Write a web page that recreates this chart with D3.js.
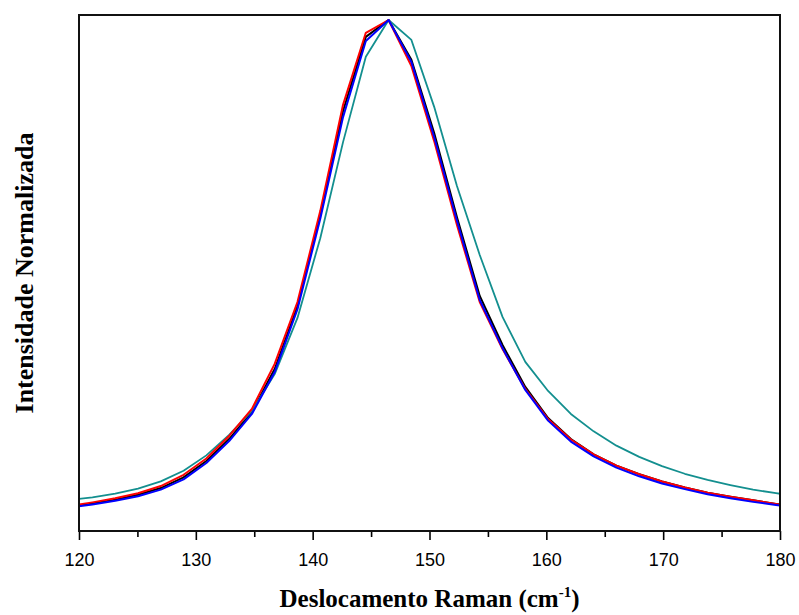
<!DOCTYPE html>
<html>
<head>
<meta charset="utf-8">
<script src="https://cdn.jsdelivr.net/npm/d3@7"></script>
<style>
  body { margin: 0; background: #fff; }
  svg { display: block; }
</style>
</head>
<body>
<svg id="chart" width="799" height="615"></svg>
<script>
  // raman shift (cm-1), sampled points
  var shift = [119.2, 121.15, 123.1, 125.05, 127.0, 128.95, 130.9, 132.85, 134.8, 136.75,
    138.7, 140.65, 142.6, 144.55, 146.5, 148.45, 150.4, 152.35, 154.3, 156.25,
    158.2, 160.15, 162.1, 164.05, 166.0, 167.95, 169.9, 171.85, 173.8, 175.75,
    177.7, 179.65, 181.6];

  // normalized intensities, one per sample
  var serieBlack = [0.047, 0.054, 0.061, 0.071, 0.084, 0.105, 0.137, 0.180, 0.233, 0.317,
    0.440, 0.618, 0.822, 0.967, 1.000, 0.922, 0.779, 0.614, 0.460, 0.364,
    0.282, 0.221, 0.180, 0.150, 0.128, 0.111, 0.097, 0.085, 0.075, 0.067,
    0.060, 0.053, 0.048];
  var serieRed = [0.049, 0.056, 0.064, 0.074, 0.088, 0.110, 0.142, 0.186, 0.239, 0.327,
    0.448, 0.626, 0.834, 0.975, 1.000, 0.910, 0.763, 0.599, 0.448, 0.356,
    0.278, 0.219, 0.179, 0.150, 0.128, 0.111, 0.097, 0.085, 0.075, 0.067,
    0.060, 0.053, 0.048];
  var serieBlue = [0.046, 0.052, 0.059, 0.068, 0.081, 0.101, 0.133, 0.176, 0.229, 0.311,
    0.434, 0.611, 0.810, 0.959, 1.000, 0.918, 0.771, 0.607, 0.452, 0.358,
    0.276, 0.216, 0.175, 0.146, 0.124, 0.107, 0.093, 0.082, 0.072, 0.064,
    0.057, 0.051, 0.046];
  var serieTeal = [0.061, 0.066, 0.073, 0.083, 0.097, 0.118, 0.148, 0.188, 0.235, 0.307,
    0.417, 0.573, 0.761, 0.928, 1.000, 0.961, 0.830, 0.675, 0.540, 0.419,
    0.331, 0.274, 0.229, 0.195, 0.167, 0.145, 0.127, 0.112, 0.100, 0.090,
    0.081, 0.074, 0.068];

  var xTicks = [120, 130, 140, 150, 160, 170, 180];

  var margin = { top: 15, right: 19, bottom: 84, left: 79 };
  var width = 799 - margin.left - margin.right,
    height = 615 - margin.top - margin.bottom;

  var svg = d3.select("#chart");
  var g = svg.append("g")
    .attr("transform", "translate(" + margin.left + "," + margin.top + ")");

  var x = d3.scaleLinear().domain([120, 180]).range([0, width]);
  var y = d3.scaleLinear().domain([0, 1]).range([height, 5]);

  // recorte para as curvas
  svg.append("defs").append("clipPath").attr("id", "clip")
    .append("rect").attr("width", width).attr("height", height);

  var line = d3.line()
    .x(function (d) { return x(d[0]); })
    .y(function (d) { return y(d[1]); });

  var series = [
    { values: serieBlack, color: "#000000", w: 2 },
    { values: serieTeal, color: "#138f8f", w: 1.8 },
    { values: serieRed, color: "#ff0000", w: 2 },
    { values: serieBlue, color: "#0000ff", w: 2 }
  ];

  var curves = g.append("g").attr("clip-path", "url(#clip)");
  series.forEach(function (s) {
    curves.append("path")
      .datum(d3.zip(shift, s.values))
      .attr("fill", "none")
      .attr("stroke", s.color)
      .attr("stroke-width", s.w)
      .attr("stroke-linejoin", "round")
      .attr("d", line);
  });

  // eixo x: ticks maiores e menores
  var xAxis = g.append("g")
    .attr("transform", "translate(0," + height + ")")
    .call(d3.axisBottom(x).tickValues(xTicks).tickSize(9).tickPadding(13).tickFormat(d3.format("d")));
  xAxis.select(".domain").remove();
  xAxis.selectAll("line").attr("stroke", "#000").attr("stroke-width", 1.6);
  xAxis.selectAll("text")
    .attr("fill", "#000")
    .style("font-family", "'Liberation Sans', Arial, sans-serif")
    .style("font-size", "18px");

  g.append("g")
    .attr("transform", "translate(0," + height + ")")
    .call(d3.axisBottom(x).tickValues(d3.range(125, 180, 10)).tickSize(6).tickFormat(""))
    .call(function (a) {
      a.select(".domain").remove();
      a.selectAll("line").attr("stroke", "#000").attr("stroke-width", 1.6);
    });

  // moldura
  g.append("rect")
    .attr("width", width)
    .attr("height", height)
    .attr("fill", "none")
    .attr("stroke", "#111")
    .attr("stroke-width", 2);

  // titulos dos eixos
  g.append("text")
    .attr("x", width / 2)
    .attr("y", height + 76)
    .attr("text-anchor", "middle")
    .style("font-family", "'Liberation Serif', 'Times New Roman', serif")
    .style("font-weight", "bold")
    .style("font-size", "25px")
    .html("Deslocamento Raman (cm<tspan dy='-10' font-size='15px'>-1</tspan><tspan dy='10'>)</tspan>");

  svg.append("text")
    .attr("transform", "translate(33," + (margin.top + height / 2) + ") rotate(-90)")
    .attr("text-anchor", "middle")
    .style("font-family", "'Liberation Serif', 'Times New Roman', serif")
    .style("font-weight", "bold")
    .style("font-size", "26px")
    .text("Intensidade Normalizada");
</script>
</body>
</html>
